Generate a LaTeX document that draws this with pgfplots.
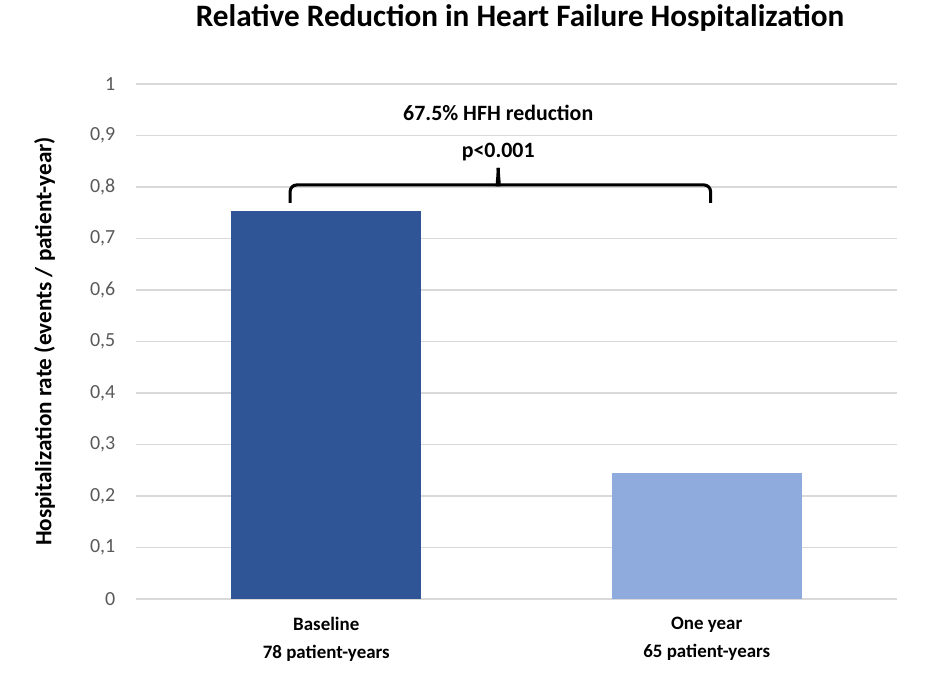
\documentclass[border=0pt]{standalone}
\usepackage{fontspec}
\setmainfont{Carlito}
\usepackage{pgfplots}
\pgfplotsset{compat=1.18}
\definecolor{darkbar}{HTML}{2F5597}
\definecolor{lightbar}{HTML}{8FAADC}
\definecolor{gridc}{HTML}{D9D9D9}
\definecolor{tickc}{HTML}{595959}
\begin{document}
\begin{tikzpicture}
\path[use as bounding box] (-102pt,-61.5pt) rectangle (599.25pt,449.25pt);
\begin{axis}[
  at={(0,0)}, anchor=south west,
  scale only axis, width=570.75pt, height=386.25pt,
  xmin=-0.5, xmax=1.5, ymin=0, ymax=1,
  axis line style={draw=none},
  ytick={0,0.1,...,1.0},
  ymajorgrids, grid style={gridc, line width=0.8pt},
  major tick length=0pt,
  xtick={0,1},
  xticklabels={Baseline\\78 patient-years, One year\\65 patient-years},
  xticklabel style={align=center, font=\fontsize{14.2pt}{21pt}\selectfont\bfseries, text=black, yshift=-10pt},
  yticklabel style={font=\fontsize{15pt}{16pt}\selectfont, text=tickc, xshift=-12pt},
  /pgf/number format/assume math mode=true,
  /pgf/number format/use comma,
  yticklabel={\pgfmathprintnumber[fixed, precision=1, use comma]{\tick}},
  ylabel={Hospitalization rate (events / patient-year)},
  ylabel style={font=\fontsize{17.4pt}{20pt}\selectfont\bfseries, at={(axis description cs:-0.120,0.5)}, anchor=center},
  clip=false,
]
\addplot[ybar, bar width=0.5, bar shift=0pt, fill=darkbar, draw=none] coordinates {(0,0.753)};
\addplot[ybar, bar width=0.5, bar shift=0pt, fill=lightbar, draw=none] coordinates {(1,0.245)};
\draw[line width=2.3pt, rounded corners=5pt] (axis cs:-0.095,0.769) -- (axis cs:-0.095,0.804) -- (axis cs:0.437,0.804) to[out=0,in=-90] (axis cs:0.452,0.837);
\draw[line width=2.3pt, rounded corners=5pt] (axis cs:1.01,0.769) -- (axis cs:1.01,0.804) -- (axis cs:0.467,0.804) to[out=180,in=-90] (axis cs:0.452,0.837);
\node[font=\fontsize{16.4pt}{19pt}\selectfont\bfseries] at (axis cs:0.452,0.944) {67.5\% HFH reduction};
\node[font=\fontsize{16.4pt}{19pt}\selectfont\bfseries] at (axis cs:0.452,0.868) {p<0.001};
\end{axis}
\node[font=\fontsize{23.4pt}{26pt}\selectfont\bfseries] at (288pt,435.75pt) {Relative Reduction in Heart Failure Hospitalization};
\end{tikzpicture}
\end{document}
